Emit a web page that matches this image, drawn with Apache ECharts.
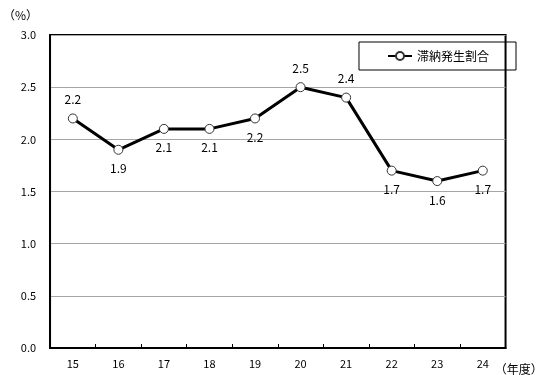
<!DOCTYPE html>
<html><head><meta charset="utf-8">
<script src="https://cdn.jsdelivr.net/npm/echarts@6/dist/echarts.min.js"></script>
<style>html,body{margin:0;padding:0;background:#fff}#c{width:545px;height:375px}</style>
</head><body><div id="c"></div>
<script>
const categories = ['15','16','17','18','19','20','21','22','23','24'];
const values = [2.2, 1.9, 2.1, 2.1, 2.2, 2.5, 2.4, 1.7, 1.6, 1.7];
const labelPos = ['top','bottom','bottom','bottom','bottom','top','top','bottom','bottom','bottom'];
const seriesName = '滞納発生割合';
const yTicks = [0, 0.5, 1.0, 1.5, 2.0, 2.5, 3.0];

const font = '"Noto Sans CJK JP", "DejaVu Sans Mono", monospace';
const chart = echarts.init(document.getElementById('c'), null, {renderer:'canvas'});
chart.setOption({
  animation:false,
  textStyle:{fontFamily:font},
  grid:{left:50, right:24, top:35, bottom:27, show:true, borderColor:'#000', borderWidth:2, backgroundColor:'transparent'},
  legend:{
    show:true, right:29, top:42,
    padding:[8,27,8,28],
    borderColor:'#000', borderWidth:1, borderRadius:0,
    itemWidth:24, itemHeight:10, itemGap:4,
    textStyle:{fontSize:12, color:'#000', fontFamily:font},
    data:[seriesName]
  },
  xAxis:{
    type:'category', data:categories, boundaryGap:true,
    name:'（年度）', nameLocation:'end', nameGap:-26,
    nameTextStyle:{fontSize:12, color:'#000', verticalAlign:'top', padding:[15,0,0,0]},
    axisLine:{lineStyle:{color:'#000', width:2}},
    axisTick:{show:true, inside:true, length:4, lineStyle:{color:'#000'}},
    axisLabel:{fontSize:11, color:'#000', margin:10},
    splitLine:{show:false}
  },
  yAxis:{
    type:'value', min:0, max:3, interval:0.5,
    name:'（%）', nameLocation:'end', nameGap:14,
    nameTextStyle:{fontSize:12, color:'#000', align:'right', padding:[0,12,0,0]},
    axisLine:{show:true, lineStyle:{color:'#000', width:2}},
    axisTick:{show:false},
    axisLabel:{fontSize:11, color:'#000', margin:14, formatter:v=>v.toFixed(1)},
    splitLine:{show:true, lineStyle:{color:'#a6a6a6', width:1}}
  },
  series:[{
    name:seriesName, type:'line',
    data:values.map((v,i)=>({value:v, label:{position:labelPos[i]}})),
    symbol:'circle', symbolSize:9,
    lineStyle:{color:'#000', width:3},
    itemStyle:{color:'#fff', borderColor:'#333', borderWidth:1},
    label:{show:true, fontSize:12, color:'#000', distance:8, formatter:p=>p.value.toFixed(1)}
  }]
});
</script></body></html>
